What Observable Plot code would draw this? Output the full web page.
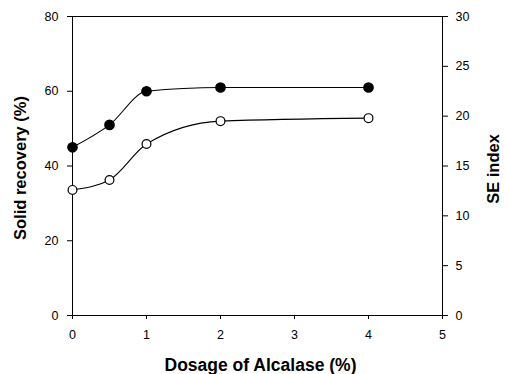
<!DOCTYPE html>
<html>
<head>
<meta charset="utf-8">
<script src="https://cdn.jsdelivr.net/npm/d3@7"></script>
<script src="https://cdn.jsdelivr.net/npm/@observablehq/plot@0.6"></script>
<style>
  html, body { margin: 0; padding: 0; background: #fff; }
  #chart svg { display: block; }
</style>
</head>
<body>
<div id="chart"></div>
<script>
// Data
const dosage = [0, 0.5, 1, 2, 4];                 // Dosage of Alcalase (%)
const solidRecovery = [45, 51, 60, 61, 61];        // Solid recovery (%) – filled circles, left axis
const seIndex = [12.6, 13.6, 17.2, 19.5, 19.8];    // SE index – open circles, right axis

const xTicks = [0, 1, 2, 3, 4, 5];
const leftTicks = [0, 20, 40, 60, 80];
const rightTicks = [0, 5, 10, 15, 20, 25, 30];

const leftMax = 80, rightMax = 30;
const toLeft = v => v * leftMax / rightMax;

const solidData = dosage.map((x, i) => ({x, y: solidRecovery[i]}));
const seData = dosage.map((x, i) => ({x, y: toLeft(seIndex[i]), se: seIndex[i]}));

const font = "'Liberation Sans', Arial, Helvetica, sans-serif";

const chart = Plot.plot({
  width: 507,
  height: 374,
  marginLeft: 72,
  marginRight: 65,
  marginTop: 16,
  marginBottom: 59,
  style: {fontFamily: font, fontSize: "12.5px", color: "#000", background: "#fff"},
  x: {domain: [0, 5]},
  y: {domain: [0, leftMax]},
  marks: [
    Plot.frame({stroke: "#000", strokeWidth: 1}),
    Plot.axisX({ticks: xTicks, tickSize: 4, tickPadding: 11, label: null, tickFormat: d => String(d)}),
    Plot.axisY({ticks: leftTicks, tickSize: 5, tickPadding: 9, label: null, anchor: "left"}),
    Plot.axisY(rightTicks.map(toLeft), {anchor: "right", tickSize: 5, tickPadding: 8, label: null,
      tickFormat: d => String(Math.round(d * rightMax / leftMax))}),
    Plot.line(solidData, {x: "x", y: "y", curve: "monotone-x", stroke: "#000", strokeWidth: 1.1}),
    Plot.line(seData, {x: "x", y: "y", curve: "monotone-x", stroke: "#000", strokeWidth: 1.1}),
    Plot.dot(solidData, {x: "x", y: "y", r: 4.6, fill: "#000", stroke: "#000"}),
    Plot.dot(seData, {x: "x", y: "y", r: 4.4, fill: "#fff", stroke: "#000", strokeWidth: 1.2}),
    Plot.text(["Solid recovery (%)"], {frameAnchor: "left", textAnchor: "middle", lineAnchor: "middle",
      dx: -51.5, dy: 2, rotate: -90, text: d => d,
      fontWeight: "bold", fontSize: 16.5, fontFamily: font, fill: "#000", letterSpacing: 0.3}),
    Plot.text(["SE index"], {frameAnchor: "right", textAnchor: "middle", lineAnchor: "middle",
      dx: 51, dy: 3, rotate: -90, text: d => d,
      fontWeight: "bold", fontSize: 16.5, fontFamily: font, fill: "#000", letterSpacing: 0.5}),
    Plot.text(["Dosage of Alcalase (%)"], {frameAnchor: "bottom", textAnchor: "middle", lineAnchor: "middle",
      dx: 3, dy: 50, text: d => d,
      fontWeight: "bold", fontSize: 17.5, fontFamily: font, fill: "#000", letterSpacing: 0.4})
  ]
});
document.getElementById("chart").appendChild(chart);
</script>
</body>
</html>
